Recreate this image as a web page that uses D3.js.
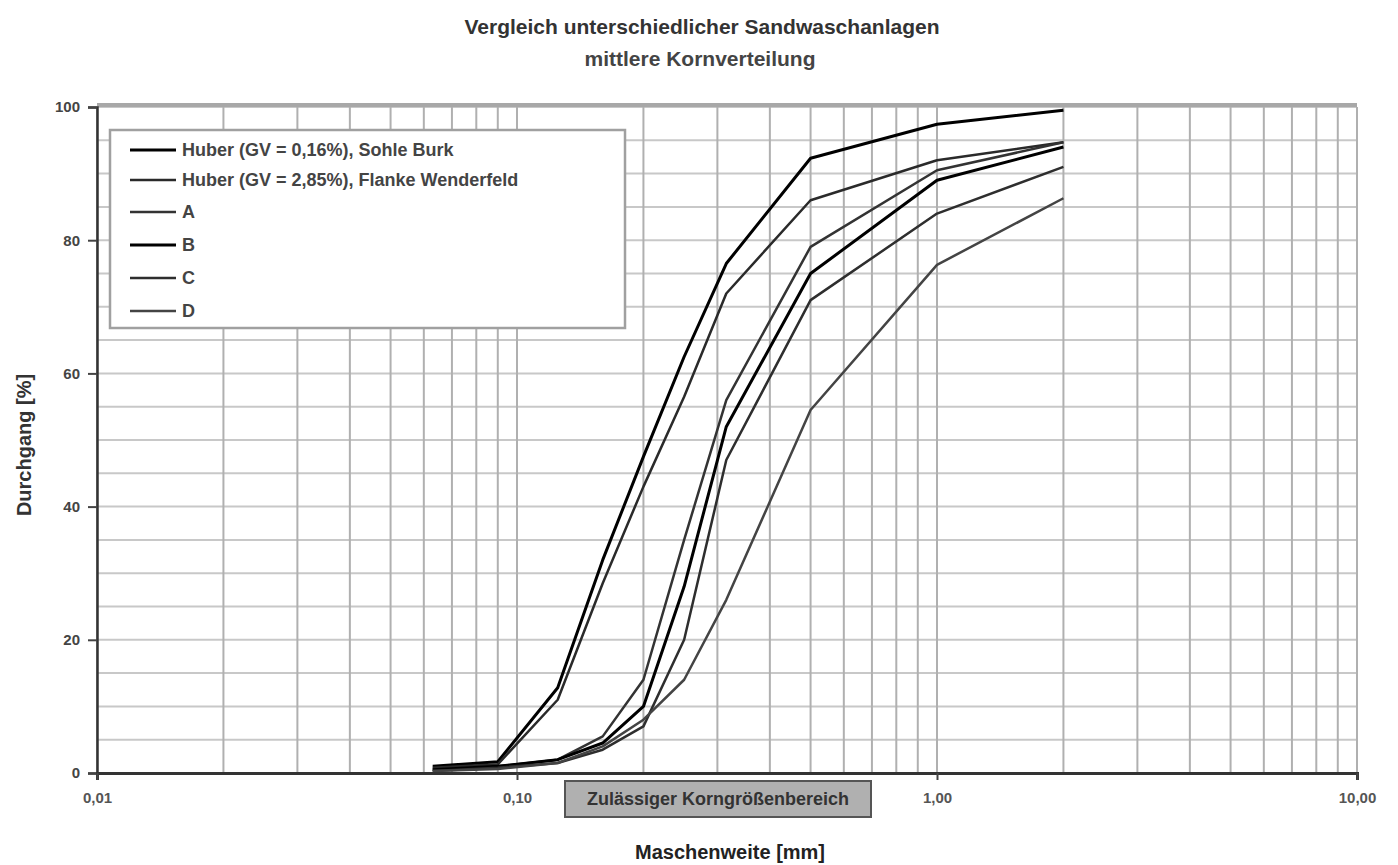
<!DOCTYPE html>
<html>
<head>
<meta charset="utf-8">
<script src="https://cdn.jsdelivr.net/npm/d3@7"></script>
<style>
  html, body { margin: 0; padding: 0; background: #fff; }
  svg { display: block; font-family: Arial, "Liberation Sans", sans-serif; }
</style>
</head>
<body>
<svg id="chart" width="1398" height="865"></svg>
<script>
// ---- data ----
const titleLines = ["Vergleich unterschiedlicher Sandwaschanlagen", "mittlere Kornverteilung"];
const xTitle = "Maschenweite [mm]";
const yTitle = "Durchgang [%]";
const noteLabel = "Zulässiger Korngrößenbereich";
const sieves = [0.063, 0.09, 0.125, 0.16, 0.2, 0.25, 0.315, 0.5, 1.0, 2.0];
const seriesNames = ["Huber (GV = 0,16%), Sohle Burk", "Huber (GV = 2,85%), Flanke Wenderfeld", "A", "B", "C", "D"];
const huber1 = [1.0, 1.7, 12.8, 32.0, 47.5, 62.5, 76.5, 92.3, 97.4, 99.5];
const huber2 = [0.8, 1.3, 11.0, 28.5, 43.0, 56.5, 72.0, 86.0, 92.0, 94.7];
const seriesA = [0.5, 1.0, 2.0, 5.5, 14.0, 35.0, 56.0, 79.0, 90.5, 94.7];
const seriesB = [0.5, 1.0, 2.0, 4.5, 10.0, 28.0, 52.0, 75.0, 89.0, 94.0];
const seriesC = [0.3, 0.8, 1.5, 3.5, 7.0, 20.0, 47.0, 71.0, 84.0, 91.0];
const seriesD = [0.3, 0.6, 1.5, 4.0, 8.0, 14.0, 26.0, 54.5, 76.3, 86.3];
const xTickValues = [0.01, 0.1, 1, 10];
const xTickLabels = ["0,01", "0,10", "1,00", "10,00"];
const yTickValues = [0, 20, 40, 60, 80, 100];

const seriesValues = [huber1, huber2, seriesA, seriesB, seriesC, seriesD];
const seriesColors = ["#000", "#2a2a2a", "#333", "#000", "#2e2e2e", "#444"];
const seriesWidths = [3, 2.5, 2.5, 3, 2.5, 2.5];

// ---- layout ----
const svg = d3.select("#chart");
const L = 97, R = 1357, T = 107, B = 773;
const x = d3.scaleLog().domain([0.01, 10]).range([L, R]);
const y = d3.scaleLinear().domain([0, 100]).range([B, T]);

svg.append("rect").attr("width", 1398).attr("height", 865).attr("fill", "#fff");

// grid
const g = svg.append("g");
const minorX = [];
[0.01, 0.1, 1].forEach(d => { for (let k = 1; k <= 10; k++) minorX.push(d * k); });
g.selectAll("line.hy").data(d3.range(5, 101, 5)).enter().append("line")
  .attr("x1", L).attr("x2", R).attr("y1", d => y(d)).attr("y2", d => y(d))
  .attr("stroke", "#c8c8c8").attr("stroke-width", 2);
g.selectAll("line.vx").data(minorX).enter().append("line")
  .attr("x1", d => x(d)).attr("x2", d => x(d)).attr("y1", T).attr("y2", B)
  .attr("stroke", "#b0b0b0").attr("stroke-width", 2);
// top border
g.append("line").attr("x1", L).attr("x2", R).attr("y1", T - 2).attr("y2", T - 2)
  .attr("stroke", "#a8a8a8").attr("stroke-width", 4);

// axes
const yAxis = d3.axisLeft(y).tickValues(yTickValues).tickSize(9).tickFormat(d3.format("d"));
const ya = svg.append("g").attr("transform", `translate(${L},0)`).call(yAxis);
ya.select(".domain").attr("stroke", "#333").attr("stroke-width", 2.5);
ya.selectAll(".tick line").attr("stroke", "#444").attr("stroke-width", 2);
ya.selectAll(".tick text").style("font-size", "15px").style("font-weight", "bold")
  .style("font-family", "Arial, 'Liberation Sans', sans-serif").attr("fill", "#444").attr("dx", -5);

const xAxis = d3.axisBottom(x).tickValues(xTickValues).tickSize(7)
  .tickFormat((d, i) => xTickLabels[i]);
const xa = svg.append("g").attr("transform", `translate(0,${B})`).call(xAxis);
xa.select(".domain").attr("stroke", "#333").attr("stroke-width", 3);
xa.selectAll(".tick line").attr("stroke", "#444").attr("stroke-width", 2);
xa.selectAll(".tick text").style("font-size", "15px").style("font-weight", "bold")
  .style("font-family", "Arial, 'Liberation Sans', sans-serif").attr("fill", "#555").attr("dy", 20);

// series lines
const line = d3.line().x((d, i) => x(sieves[i])).y(d => y(d));
svg.append("g").selectAll("path").data(seriesValues).enter().append("path")
  .attr("d", d => line(d)).attr("fill", "none")
  .attr("stroke", (d, i) => seriesColors[i]).attr("stroke-width", (d, i) => seriesWidths[i])
  .attr("stroke-linejoin", "round");

// legend
const lg = svg.append("g");
lg.append("rect").attr("x", 110).attr("y", 130).attr("width", 515).attr("height", 198)
  .attr("fill", "#fff").attr("stroke", "#a0a0a0").attr("stroke-width", 2.5);
const rowsY = [150, 180, 212, 245, 278, 311];
seriesNames.forEach((name, i) => {
  lg.append("line").attr("x1", 130).attr("x2", 176).attr("y1", rowsY[i]).attr("y2", rowsY[i])
    .attr("stroke", seriesColors[i]).attr("stroke-width", seriesWidths[i]);
  lg.append("text").attr("x", 182).attr("y", rowsY[i]).attr("dy", "0.35em")
    .attr("font-size", 18).attr("font-weight", "bold").attr("fill", "#444").text(name);
});

// titles
svg.append("text").attr("x", 702).attr("y", 34).attr("text-anchor", "middle")
  .attr("font-size", 21).attr("font-weight", "bold").attr("fill", "#333").text(titleLines[0]);
svg.append("text").attr("x", 700).attr("y", 66).attr("text-anchor", "middle")
  .attr("font-size", 21).attr("font-weight", "bold").attr("fill", "#444").text(titleLines[1]);
svg.append("text").attr("x", 730).attr("y", 859).attr("text-anchor", "middle")
  .attr("font-size", 20).attr("font-weight", "bold").attr("fill", "#222").text(xTitle);
svg.append("text").attr("transform", "translate(31,445) rotate(-90)").attr("text-anchor", "middle")
  .attr("font-size", 20).attr("font-weight", "bold").attr("fill", "#333").text(yTitle);

// note box
svg.append("rect").attr("x", 565).attr("y", 781).attr("width", 306).attr("height", 36)
  .attr("fill", "#b0b0b0").attr("stroke", "#555").attr("stroke-width", 2);
svg.append("text").attr("x", 718).attr("y", 799).attr("dy", "0.35em").attr("text-anchor", "middle")
  .attr("font-size", 18).attr("font-weight", "bold").attr("fill", "#333").text(noteLabel);
</script>
</body>
</html>
